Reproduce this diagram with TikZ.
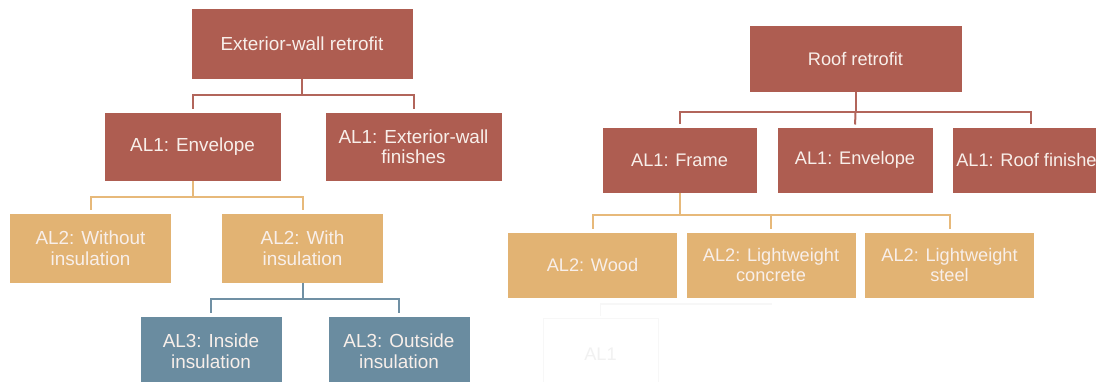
\documentclass[tikz,border=0pt]{standalone}
\usepackage{fontspec}
\setmainfont{Liberation Sans}
\definecolor{rustred}{HTML}{AE5D51}
\definecolor{rustline}{HTML}{B2655B}
\definecolor{sand}{HTML}{E2B373}
\definecolor{sandline}{HTML}{E7B97A}
\definecolor{slate}{HTML}{6A8CA0}
\definecolor{slateline}{HTML}{7090A4}
\definecolor{boxtext}{HTML}{F8EFEA}
\definecolor{ghostline}{HTML}{F7F7F7}
\definecolor{ghosttext}{HTML}{F1F1F1}
\begin{document}
\begin{tikzpicture}[x=1pt,y=-1pt,
  box/.style={rectangle, inner sep=0pt, outer sep=0pt, draw=white, line width=0.6pt,
    text=boxtext, align=center},
  wh/.style 2 args={minimum width=#1pt, minimum height=#2pt},
  lvlone/.style={box, fill=rustred},
  lvltwo/.style={box, fill=sand},
  lvlthree/.style={box, fill=slate},
  ghostbox/.style={rectangle, inner sep=0pt, outer sep=0pt, draw=ghostline, line width=1pt,
    text=ghosttext, font=\fontsize{18.2}{20}\selectfont},
  bigtext/.style={font=\fontsize{18.9}{20.5}\selectfont},
  smalltext/.style={font=\fontsize{18.2}{20}\selectfont},
  redline/.style={draw=rustline, line width=2pt},
  sandwire/.style={draw=sandline, line width=2pt},
  slatewire/.style={draw=slateline, line width=2pt},
  ghostwire/.style={draw=ghostline, line width=1.5pt},
  tobox/.style={shorten >=2.5pt}
]
\useasboundingbox (0,0) rectangle (1096,382);
\clip (0,0) rectangle (1096,382);
\fill[white] (0,0) rectangle (1096,382);

% ---------- exterior-wall tree ----------
\node[lvlone, bigtext, wh={222}{71}] (rootL) at (302,43.5) {Exterior-wall retrofit};
\node[lvlone, bigtext, wh={177}{69}] (envL) at (192.5,146.5) {AL1: Envelope};
\node[lvlone, bigtext, wh={177}{69}] (finL) at (413.5,146.5) {AL1: Exterior-wall\\finishes};
\node[lvltwo, bigtext, wh={162}{70}] (woL) at (90.5,248) {AL2: Without\\insulation};
\node[lvltwo, bigtext, wh={162}{70}] (wiL) at (302.5,248) {AL2: With\\insulation};
\node[lvlthree, bigtext, wh={142}{70}] (inL) at (211,351) {AL3: Inside\\insulation};
\node[lvlthree, bigtext, wh={142}{70}] (outL) at (399,351) {AL3: Outside\\insulation};

\coordinate (busA) at (302,95);
\draw[redline] (rootL.south) -- (busA);
\draw[redline, tobox] (busA) -| (envL.north);
\draw[redline, tobox] (busA) -| (finL.north);

\coordinate (busB) at (192.5,197);
\draw[sandwire] (envL.south) -- (busB);
\draw[sandwire, tobox] (busB) -| (woL.north);
\draw[sandwire, tobox] (busB) -| (wiL.north);

\coordinate (busC) at (302.5,299);
\draw[slatewire] (wiL.south) -- (busC);
\draw[slatewire, tobox] (busC) -| (inL.north);
\draw[slatewire, tobox] (busC) -| (outL.north);

% ---------- roof tree ----------
\node[lvlone, smalltext, wh={213}{67}] (rootR) at (855.5,58.5) {Roof retrofit};
\node[lvlone, smalltext, wh={155}{66}] (frameR) at (679.5,160) {AL1: Frame};
\node[lvlone, smalltext, wh={156}{66}] (envR) at (855,160) {AL1: Envelope};
\node[lvlone, smalltext, wh={158}{66}] (roofF) at (1031,160) {AL1: Roof finishes};
\node[lvltwo, smalltext, wh={170}{66}] (wood) at (592.5,265) {AL2: Wood};
\node[lvltwo, smalltext, wh={170}{66}] (conc) at (771,265) {AL2: Lightweight\\concrete};
\node[lvltwo, smalltext, wh={170}{66}] (steel) at (949.5,265) {AL2: Lightweight\\steel};

\coordinate (busD) at (855.5,112);
\draw[redline] (rootR.south) -- (busD);
\draw[redline, tobox] (busD) -| (frameR.north);
\draw[redline, tobox] (busD) -- (envR.north);
\draw[redline, tobox] (busD) -| (roofF.north);

\coordinate (busE) at (679.5,215);
\draw[sandwire] (frameR.south) -- (busE);
\draw[sandwire, tobox] (busE) -| (wood.north);
\draw[sandwire, tobox] (busE) -| (conc.north);
\draw[sandwire, tobox] (busE) -| (steel.north);

% faded leftover box below the roof tree
\node[ghostbox, wh={115}{70}] (ghost) at (600.5,354) {AL1};
\coordinate (ghostEnd) at (772,304);
\draw[ghostwire, shorten <=3pt] (ghost.north) |- (ghostEnd);
\end{tikzpicture}
\end{document}
